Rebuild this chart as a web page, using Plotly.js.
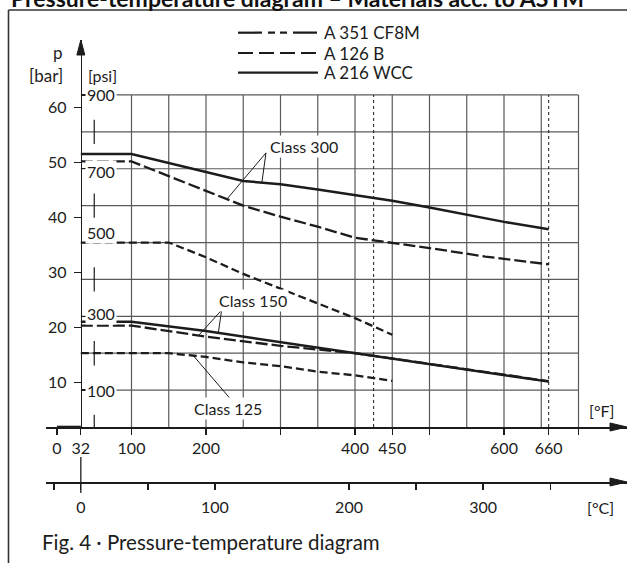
<!DOCTYPE html>
<html><head><meta charset="utf-8">
<script src="https://cdn.plot.ly/plotly-3.0.1.min.js"></script>
<style>html,body{margin:0;padding:0;background:#fff}#chart{width:627px;height:563px}</style>
</head><body><div id="chart"></div>
<script>
// ---------- axes / ticks ----------
const F_TICKS  = [0, 32, 100, 200, 300, 400, 450, 500, 600, 660, 700];
const F_LABELS = ['0', '32', '100', '200', '', '400', '450', '', '600', '660', ''];
const C_TICKS  = [-20, 0, 50, 100, 200, 250, 300, 350];
const C_LABELS = ['', '0', '', '100', '200', '', '300', ''];
const BAR_TICKS = [10, 20, 30, 40, 50, 60];
const PSI_LABELS = [100, 300, 500, 700, 900];
const PSI_LABEL_SHIFT = [0, 3, 10, -3, 0];
const PSI_MARKS = [0, 200, 400, 600, 800];
const GRID_F = [100, 150, 200, 250, 300, 350, 400, 450, 500, 550, 600, 650, 700];
const GRID_PSI = [100, 200, 300, 400, 500, 600, 700, 800, 900];
const LIMIT_F = [425, 660];

// ---------- series: temperature [°F], pressure [psi] ----------
const wcc300_F   = [32, 100, 250, 300, 350, 400, 450, 500, 550, 575, 600, 660];
const wcc300_psi = [740, 740, 667, 658, 644, 629, 613, 595, 575, 564, 556, 536];
const cf8m300_F   = [32, 100, 200, 250, 300, 350, 400, 450, 500, 575, 660];
const cf8m300_psi = [720, 720, 640, 600, 570, 543, 513, 500, 485, 462, 441];
const b250_F   = [32, 150, 200, 250, 300, 350, 400, 450];
const b250_psi = [500, 500, 460, 415, 375, 335, 295, 250];
const wcc150_F   = [32, 100, 200, 300, 400, 500, 600, 660];
const wcc150_psi = [285, 285, 260, 230, 200, 170, 140, 123];
const cf8m150_F   = [32, 100, 200, 300, 400, 500, 600, 660];
const cf8m150_psi = [275, 275, 245, 220, 200, 172, 142, 124];
const b125_F   = [32, 150, 200, 250, 300, 350, 400, 450];
const b125_psi = [200, 200, 190, 175, 165, 150, 140, 125];

const LEGEND_NAMES = ['A 351 CF8M', 'A 126 B', 'A 216 WCC'];

// ---------- geometry ----------
const W = 627, H = 563, ML = 46, MR = 0, MT = 40, MB = 81;
const PW = W - ML - MR, PH = H - MT - MB;
const F_RANGE = [-14.77, 765.1];
const C_RANGE = F_RANGE.map(f => (f - 32) / 1.8);
const PSI_RANGE = [0, 1049];
const BAR_RANGE = [1.945, 72.31];
const DOM0 = (482 - 427) / PH;               // °F axis height in paper
const YPOS = (32 - F_RANGE[0]) / (F_RANGE[1] - F_RANGE[0]);
const px = v => (v - ML) / PW;               // pixel -> paper x
const py = v => (H - MB - v) / PH;           // pixel -> paper y

const INK = '#1c1c1c', GRID = '#5a5a5a';
const FONT = 'Lato, "Open Sans", sans-serif';
const DASH_CF8M = '12px,4px';
const DASH_B = '8px,4px';

function interp(xs, ys, x) {
  for (let i = 1; i < xs.length; i++) {
    if (x <= xs[i]) { const t = (x - xs[i-1]) / (xs[i] - xs[i-1]); return ys[i-1] + t * (ys[i] - ys[i-1]); }
  }
  return ys[ys.length - 1];
}

function curve(xs, ys, dash, w) {
  return {x: xs, y: ys, xaxis: 'x', yaxis: 'y', mode: 'lines', showlegend: false, hoverinfo: 'skip',
          line: {color: INK, width: w || 2.4, dash: dash || 'solid'}};
}

const data = [
  curve(wcc300_F, wcc300_psi, 'solid', 2.5),
  curve(cf8m300_F, cf8m300_psi, DASH_CF8M, 2.3),
  curve(b250_F, b250_psi, DASH_B, 2.3),
  curve(wcc150_F, wcc150_psi, 'solid', 2.5),
  curve(cf8m150_F, cf8m150_psi, DASH_CF8M, 2.3),
  curve(b125_F, b125_psi, DASH_B, 2.3),
  // anchors so the °C and bar axes get drawn
  {x: [100], y: [0], xaxis: 'x2', yaxis: 'y', mode: 'markers', marker: {opacity: 0}, hoverinfo: 'skip', showlegend: false},
  {x: [100], y: [10], xaxis: 'x', yaxis: 'y2', mode: 'markers', marker: {opacity: 0}, hoverinfo: 'skip', showlegend: false}
];

const shapes = [];
GRID_F.forEach(f => shapes.push({type: 'line', xref: 'x', yref: 'y', x0: f, x1: f, y0: 0, y1: 900, layer: 'below', line: {color: GRID, width: 1.2}}));
GRID_PSI.forEach(p => shapes.push({type: 'line', xref: 'x', yref: 'y', x0: 32, x1: 700, y0: p, y1: p, layer: 'below', line: {color: GRID, width: 1.2}}));
LIMIT_F.forEach(f => shapes.push({type: 'line', xref: 'x', yref: 'y', x0: f, x1: f, y0: 0, y1: 900, layer: 'below', line: {color: INK, width: 1, dash: '3px,3px'}}));
PSI_MARKS.forEach(p => shapes.push({type: 'line', xref: 'x', yref: 'y', x0: 50, x1: 50, y0: Math.max(0, p - 33), y1: p + 33, layer: 'below', line: {color: INK, width: 1.2}}));
shapes.push({type: 'line', xref: 'x', yref: 'y', x0: 0, x1: 32, y0: 0, y1: 0, line: {color: INK, width: 2.6}});
shapes.push({type: 'line', xref: 'x2', yref: 'paper', x0: 0, x1: 0, y0: py(493), y1: py(457), line: {color: INK, width: 1.3}});
shapes.push({type: 'path', xref: 'paper', yref: 'paper', xsizemode: 'pixel', ysizemode: 'pixel', xanchor: 1, yanchor: DOM0,
  path: 'M0,0 L-17,4 L-17,-4 Z', fillcolor: INK, line: {color: INK, width: 1}});
shapes.push({type: 'path', xref: 'paper', yref: 'paper', xsizemode: 'pixel', ysizemode: 'pixel', xanchor: 1, yanchor: 0,
  path: 'M0,0 L-17,4 L-17,-4 Z', fillcolor: INK, line: {color: INK, width: 1}});
shapes.push({type: 'path', xref: 'paper', yref: 'paper', xsizemode: 'pixel', ysizemode: 'pixel', xanchor: YPOS, yanchor: 1,
  path: 'M0,0 L-4,-15 L4,-15 Z', fillcolor: INK, line: {color: INK, width: 1}});
shapes.push({type: 'line', xref: 'paper', yref: 'paper', x0: px(8.5), x1: px(8.5), y0: py(563), y1: py(10), line: {color: '#333', width: 1.6}});
shapes.push({type: 'line', xref: 'paper', yref: 'paper', x0: px(8.5), x1: px(627), y0: py(10), y1: py(10), line: {color: '#333', width: 1.6}});
const LEG_Y = [32.7, 53, 72.7];
const LEG_DASH = ['24px,6px,7px,5px,7px,6px', '15px,6px', 'solid'];
LEG_Y.forEach((yy, i) => shapes.push({type: 'line', xref: 'paper', yref: 'paper', x0: px(238), x1: px(318), y0: py(yy), y1: py(yy),
  line: {color: INK, width: 2.2, dash: LEG_DASH[i]}}));

function leader(ax, ay, xs, ys, fx) {
  shapes.push({type: 'line', xref: 'x', yref: 'y', x0: ax, y0: ay, x1: fx, y1: interp(xs, ys, fx), line: {color: INK, width: 1}});
}
leader(280.5, 743, cf8m300_F, cf8m300_psi, 228);
leader(280.5, 743, wcc300_F, wcc300_psi, 275);
leader(221, 317, cf8m150_F, cf8m150_psi, 190);
leader(221, 317, wcc150_F, wcc150_psi, 216.5);
leader(232, 78, b125_F, b125_psi, 183);

const annotations = [];
const txt = (o) => annotations.push(Object.assign({showarrow: false, font: {family: FONT, size: 16, color: INK}}, o));
PSI_LABELS.forEach((p, i) => txt({text: String(p), xref: 'x', yref: 'y', x: 48, y: p, xanchor: 'center', yanchor: 'middle',
  xshift: 8, yshift: PSI_LABEL_SHIFT[i], bgcolor: '#fff', borderpad: 1}));
LEGEND_NAMES.forEach((n, i) => txt({text: n, xref: 'paper', yref: 'paper', x: px(322), y: py(LEG_Y[i]), xanchor: 'left', yanchor: 'middle', font: {family: FONT, size: 17, color: INK}}));
txt({text: 'p', xref: 'paper', yref: 'paper', x: px(58), y: py(52), xanchor: 'center', yanchor: 'middle', font: {family: FONT, size: 17, color: INK}});
txt({text: '[bar]', xref: 'paper', yref: 'paper', x: px(46), y: py(75), xanchor: 'center', yanchor: 'middle', font: {family: FONT, size: 17, color: INK}});
txt({text: '[psi]', xref: 'paper', yref: 'paper', x: px(102), y: py(75), xanchor: 'center', yanchor: 'middle', font: {family: FONT, size: 16, color: INK}});
txt({text: '[°F]', xref: 'paper', yref: 'paper', x: px(601), y: py(410), xanchor: 'center', yanchor: 'middle'});
txt({text: '[°C]', xref: 'paper', yref: 'paper', x: px(600), y: py(507), xanchor: 'center', yanchor: 'middle'});
txt({text: 'Class 300', xref: 'x', yref: 'y', x: 283, y: 760, xanchor: 'left', yanchor: 'middle', bgcolor: '#fff', borderpad: 1});
txt({text: 'Class 150', xref: 'x', yref: 'y', x: 215, y: 342, xanchor: 'left', yanchor: 'middle', bgcolor: '#fff', borderpad: 1});
txt({text: 'Class 125', xref: 'x', yref: 'y', x: 181, y: 51, xanchor: 'left', yanchor: 'middle', bgcolor: '#fff', borderpad: 1});
txt({text: 'Fig. 4 · Pressure-temperature diagram', xref: 'paper', yref: 'paper', x: px(40), y: py(542), xanchor: 'left', yanchor: 'middle', font: {family: FONT, size: 20.5, color: INK}});
txt({text: '<b>Pressure-temperature diagram – Materials acc. to ASTM</b>', xref: 'paper', yref: 'paper', x: px(10), y: py(13), xanchor: 'left', yanchor: 'bottom', borderpad: 0, font: {family: FONT, size: 23, color: '#111'}});

const tickFont = {family: FONT, size: 16, color: INK};
const layout = {
  width: W, height: H, margin: {l: ML, r: MR, t: MT, b: MB, pad: 0},
  paper_bgcolor: '#fff', plot_bgcolor: '#fff', showlegend: false,
  xaxis: {range: F_RANGE, domain: [0, 1], anchor: 'free', position: DOM0, showgrid: false, zeroline: false,
    showline: true, linecolor: INK, linewidth: 1.5, ticks: 'outside', ticklen: 6, tickwidth: 1.3, tickcolor: INK,
    tickmode: 'array', tickvals: F_TICKS, ticktext: F_LABELS, tickfont: tickFont, fixedrange: true},
  xaxis2: {range: C_RANGE, overlaying: 'x', anchor: 'free', position: 0, showgrid: false, zeroline: false,
    showline: true, linecolor: INK, linewidth: 1.5, ticks: 'outside', ticklen: 6, tickwidth: 1.3, tickcolor: INK,
    tickmode: 'array', tickvals: C_TICKS, ticktext: C_LABELS, tickfont: tickFont, ticklabelstandoff: 4, fixedrange: true},
  yaxis: {range: PSI_RANGE, domain: [DOM0, 1], anchor: 'free', position: YPOS, showgrid: false, zeroline: false,
    showline: true, linecolor: INK, linewidth: 1.5, ticks: 'inside', ticklen: 4, tickwidth: 1.3, tickcolor: INK,
    tickmode: 'array', tickvals: PSI_LABELS, showticklabels: false, fixedrange: true},
  yaxis2: {range: BAR_RANGE, domain: [DOM0, 1], overlaying: 'y', anchor: 'free', position: YPOS, side: 'left',
    showgrid: false, zeroline: false, showline: false, ticks: 'outside', ticklen: 7, tickwidth: 1.3, tickcolor: INK,
    tickmode: 'array', tickvals: BAR_TICKS, tickfont: tickFont, ticklabelstandoff: 4, fixedrange: true},
  shapes: shapes, annotations: annotations
};
Plotly.newPlot('chart', data, layout, {staticPlot: true, displayModeBar: false});
</script></body></html>
